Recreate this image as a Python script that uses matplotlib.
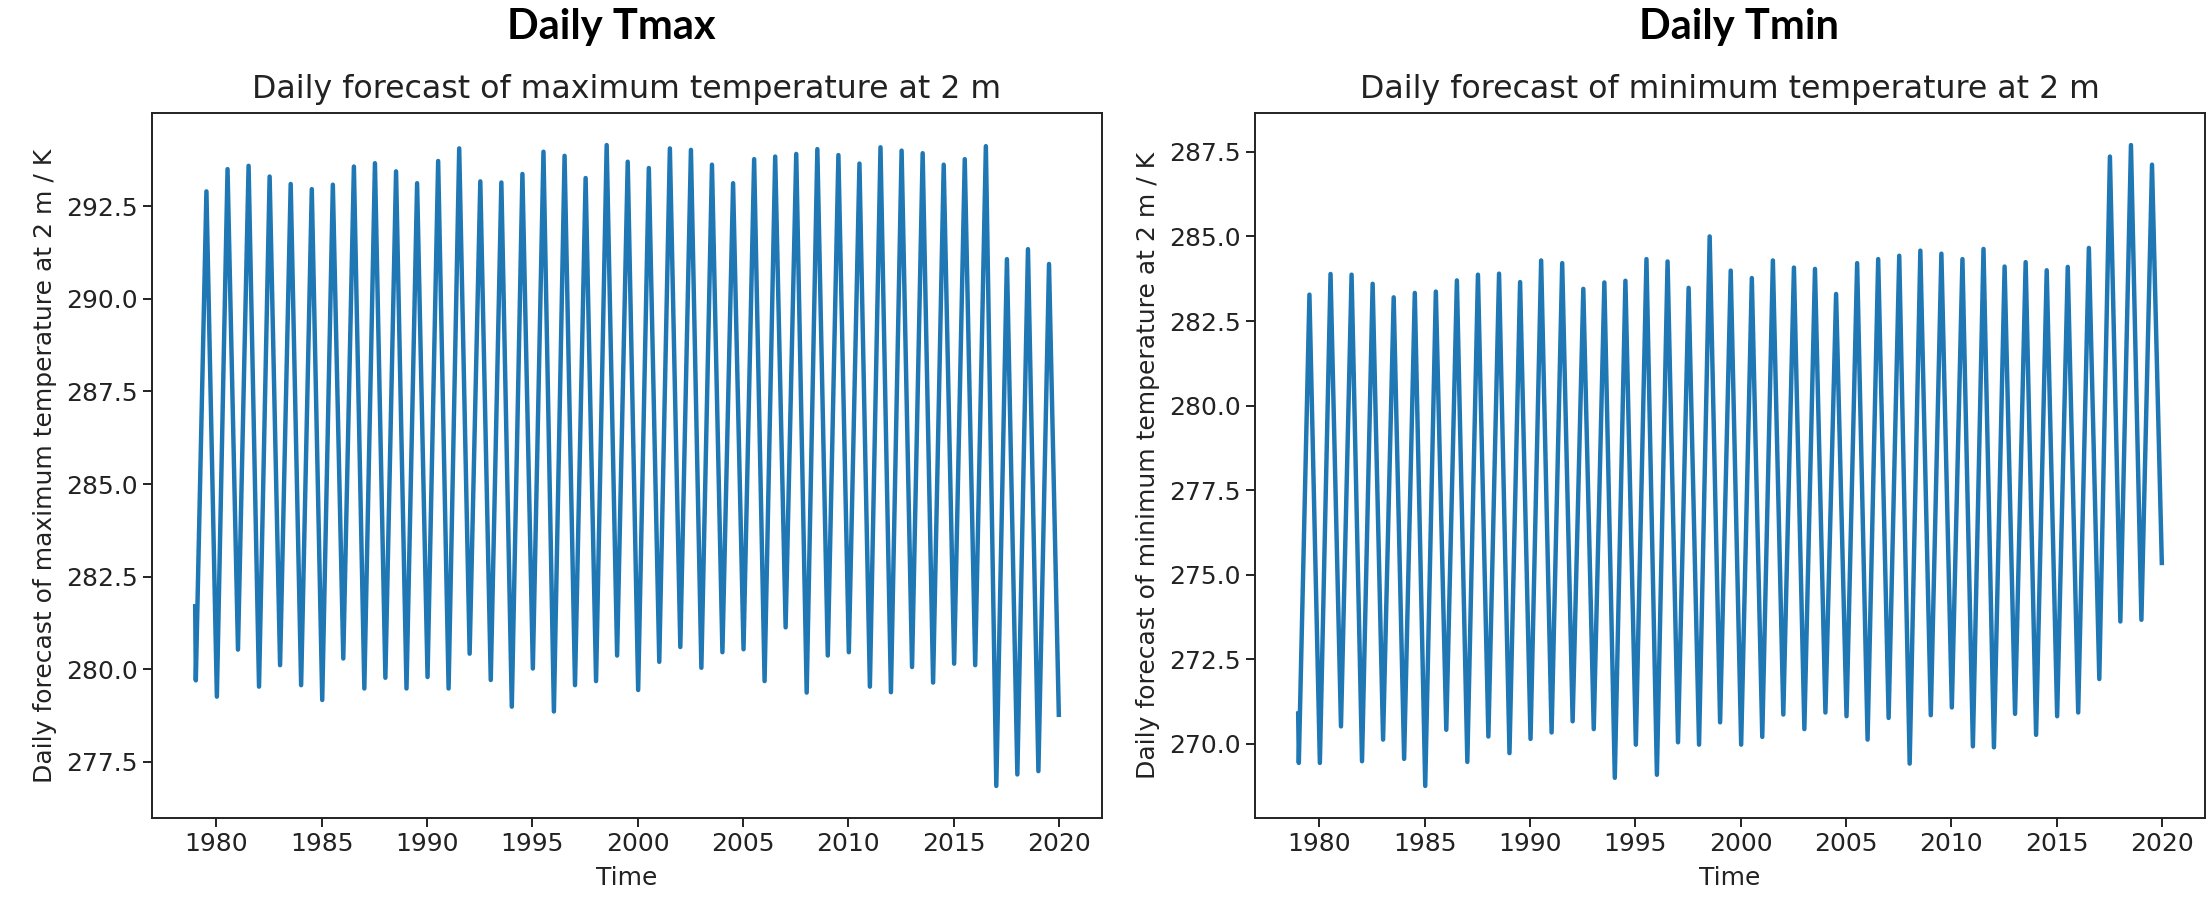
import matplotlib
matplotlib.use("Agg")
import matplotlib.pyplot as plt
import matplotlib.dates as mdates
import numpy as np
import pandas as pd

# ---------------- data ----------------
years = list(range(1979, 2020))

# Daily Tmax: summer peaks and winter troughs per year (K)
tmax_peak = [292.90, 293.50, 293.59, 293.30, 293.10, 292.96, 293.08, 293.57, 293.66, 293.44,
             293.12, 293.72, 294.06, 293.17, 293.14, 293.37, 293.97, 293.86, 293.26, 294.15,
             293.70, 293.53, 294.06, 294.02, 293.62, 293.12, 293.77, 293.84, 293.91, 294.04,
             293.88, 293.65, 294.09, 294.00, 293.93, 293.62, 293.77, 294.12, 291.07, 291.34,
             290.94]
tmax_trough = [279.70, 279.26, 280.53, 279.53, 280.11, 279.57, 279.17, 280.29, 279.48, 279.77,
               279.48, 279.79, 279.48, 280.42, 279.71, 278.99, 280.02, 278.86, 279.57, 279.68,
               280.37, 279.44, 280.20, 280.60, 280.04, 280.46, 280.54, 279.68, 281.13, 279.37,
               280.37, 280.46, 279.53, 279.38, 280.06, 279.64, 280.15, 280.11, 276.85, 277.16,
               277.25]
tmax_start = 281.70
tmax_end = 278.77

# Daily Tmin: summer peaks and winter troughs per year (K)
tmin_peak = [283.28, 283.89, 283.87, 283.60, 283.20, 283.33, 283.37, 283.70, 283.87, 283.90,
             283.65, 284.29, 284.21, 283.45, 283.64, 283.69, 284.33, 284.26, 283.48, 285.00,
             283.99, 283.77, 284.29, 284.08, 284.04, 283.30, 284.21, 284.33, 284.43, 284.58,
             284.49, 284.33, 284.63, 284.11, 284.24, 284.00, 284.10, 284.66, 287.36, 287.70,
             287.12]
tmin_trough = [269.44, 269.44, 270.52, 269.49, 270.13, 269.56, 268.76, 270.42, 269.47, 270.22,
               269.73, 270.15, 270.34, 270.67, 270.44, 269.00, 269.98, 269.09, 270.05, 269.98,
               270.64, 269.98, 270.21, 270.87, 270.44, 270.93, 270.82, 270.13, 270.77, 269.42,
               270.85, 271.08, 269.93, 269.90, 270.89, 270.27, 270.82, 270.93, 271.92, 273.62,
               273.67]
tmin_start = 270.90
tmin_end = 275.35

ytick_tmax = [277.5, 280.0, 282.5, 285.0, 287.5, 290.0, 292.5]
ytick_tmin = [270.0, 272.5, 275.0, 277.5, 280.0, 282.5, 285.0, 287.5]

panel_titles = ["Daily Tmax", "Daily Tmin"]
axes_titles = ["Daily forecast of maximum temperature at 2 m",
               "Daily forecast of minimum temperature at 2 m"]
ylabels = ["Daily forecast of maximum temperature at 2 m / K",
           "Daily forecast of minimum temperature at 2 m / K"]
xlabel = "Time"


def build_series(start, troughs, peaks, end):
    dates = [pd.Timestamp("1979-01-01")]
    vals = [start]
    for y, tr, pk in zip(years, troughs, peaks):
        dates.append(pd.Timestamp(f"{y}-01-12"))
        vals.append(tr)
        dates.append(pd.Timestamp(f"{y}-07-15"))
        vals.append(pk)
    dates.append(pd.Timestamp("2020-01-01"))
    vals.append(end)
    return pd.Series(vals, index=pd.DatetimeIndex(dates))


series = [build_series(tmax_start, tmax_trough, tmax_peak, tmax_end),
          build_series(tmin_start, tmin_trough, tmin_peak, tmin_end)]
yticks = [ytick_tmax, ytick_tmin]

# ---------------- figure ----------------
W, H = 2211, 897
fig = plt.figure(figsize=(W / 100, H / 100), dpi=100)
fig.patch.set_facecolor("white")

ax_left_px = [152, 1255]
ax_w_px = 950
ax_top_px, ax_bot_px = 113, 818
title_x_px = [611, 1739]

for i in range(2):
    ax = fig.add_axes([ax_left_px[i] / W, (H - ax_bot_px) / H,
                       ax_w_px / W, (ax_bot_px - ax_top_px) / H])
    s = series[i]
    ax.plot(s.index, s.values, color="#1f77b4", lw=3.2)
    ax.set_yticks(yticks[i])
    ax.yaxis.set_major_formatter(matplotlib.ticker.FormatStrFormatter("%.1f"))
    ax.xaxis.set_major_locator(mdates.YearLocator(5))
    ax.xaxis.set_major_formatter(mdates.DateFormatter("%Y"))
    ax.tick_params(labelsize=18, length=6.5, width=1.4, colors="#222222")
    for sp in ax.spines.values():
        sp.set_linewidth(1.4)
        sp.set_color("#222222")
    ax.set_title(axes_titles[i], fontsize=22.8, pad=11, color="#222222")
    ax.set_ylabel(ylabels[i], fontsize=18, labelpad=7, color="#222222")
    ax.set_xlabel(xlabel, fontsize=18, labelpad=7, color="#222222")
    fig.text(title_x_px[i] / W, 1 - 27 / H, panel_titles[i], ha="center", va="center",
             fontsize=30, fontweight="bold", family=["Lato", "DejaVu Sans"])

fig.savefig("out.png", dpi=100, facecolor="white")
